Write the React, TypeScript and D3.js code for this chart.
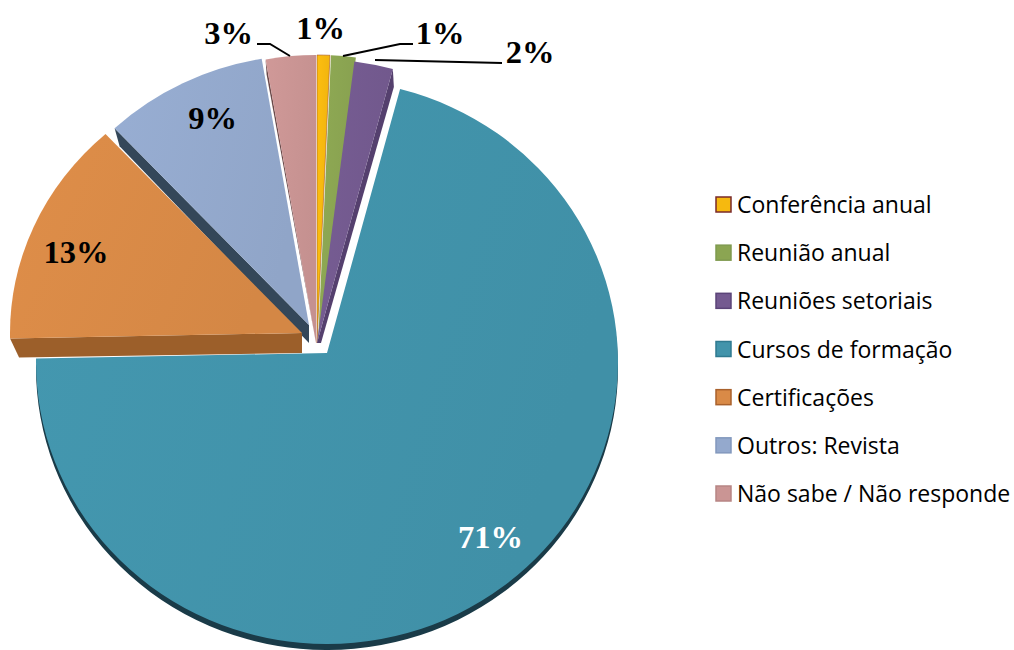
import React from "react";
import * as d3 from "d3";

const categories = ["Conferência anual", "Reunião anual", "Reuniões setoriais", "Cursos de formação", "Certificações", "Outros: Revista", "Não sabe / Não responde"];
const shares = [0.72, 1.38, 2.2, 70.4, 12.9, 9.6, 2.8];
const percentLabels = ["1%", "1%", "2%", "71%", "13%", "9%", "3%"];
const topColors = ["#f6b90f", "#8ba552", "#745a90", "#4294ab", "#d98a47", "#94a9cd", "#ca9594"];
const sideColors = ["#8a6a08", "#566a30", "#55406e", "#1a3b48", "#9c5f2a", "#344759", "#6b4a4a"];
const legendBorders = ["#7a2a2a", "#7f9a4f", "#5b4478", "#2f7a90", "#a9612c", "#8298bd", "#b78584"];

// apex of every exploded slice and the tilted ellipse of its rim
const apexX = [317, 318, 317, 327, 302, 309, 316];
const apexY = [343, 343, 343, 353, 333, 325, 343];
const rimRx = [291, 291, 291, 291, 292, 284, 291];
const rimRy = [296, 296, 292, 282, 269, 270, 296];
const rimDrop = [8, 8, 8, 9, 0, 0, 8];

function rim(i: number, angle: number) {
  // ray from the apex, in clockwise-from-top angle, to the tilted ellipse
  const dx = Math.sin(angle), dy = -Math.cos(angle);
  const RX = rimRx[i], RY = rimRy[i], D = rimDrop[i];
  const a = (dx * dx) / (RX * RX) + (dy * dy) / (RY * RY);
  const b = (2 * dy * -D) / (RY * RY);
  const c = (D * D) / (RY * RY) - 1;
  const t = (-b + Math.sqrt(b * b - 4 * a * c)) / (2 * a);
  return [apexX[i] + t * dx, apexY[i] + t * dy];
}

function slicePath(i: number, a0: number, a1: number) {
  const [x0, y0] = rim(i, a0);
  const [x1, y1] = rim(i, a1);
  const large = a1 - a0 > Math.PI ? 1 : 0;
  return `M${apexX[i]},${apexY[i]}L${x0},${y0}A${rimRx[i]},${rimRy[i]} 0 ${large} 1 ${x1},${y1}Z`;
}

const pieGen = d3.pie<number>().sort(null).startAngle(0).endAngle(2 * Math.PI);
const arcs = pieGen(shares);

const legendY = d3.scalePoint<string>().domain(categories).range([205, 494]);

const labelX = [320.5, 440, 530, 490.5, 76, 212.5, 228.5];
const labelY = [39, 44, 63, 548, 263, 129, 44];
const labelColor = ["#000", "#000", "#000", "#fff", "#000", "#000", "#000"];
const leaders: [number, number][][] = [
  [],
  [[413, 44], [400, 44], [343, 56]],
  [[502, 63], [375, 60]],
  [],
  [],
  [],
  [[257, 44], [270, 44], [290, 56]],
];
const line = d3.line();

export default function App() {
  return (
    <svg width={1014} height={650} style={{ position: "absolute", left: 0, top: 0, background: "#fff" }}>
      <defs>
        {topColors.map((c, i) => (
          <linearGradient key={i} id={`g${i}`} x1="0" y1="0" x2="1" y2="0.3">
            <stop offset="0" stopColor={d3.rgb(c).brighter(0.08).formatHex()} />
            <stop offset="1" stopColor={d3.rgb(c).darker(0.07).formatHex()} />
          </linearGradient>
        ))}
      </defs>
      {[3, 0, 1, 2, 6, 5, 4].map((i) => {
        const s = arcs[i];
        const d = slicePath(i, s.startAngle, s.endAngle);
        const [lx, ly] = rim(i, s.startAngle);
        const [ex, ey] = rim(i, s.endAngle);
        const ax = apexX[i], ay = apexY[i];
        let wall = null;
        if (i === 3) wall = <path d={d} transform="translate(0,6)" fill={sideColors[i]} />;
        else if (i === 4) wall = <path d={`M${lx},${ly}L${lx + 9},${ly + 19}L${ax},${ay + 20}L${ax},${ay}Z`} fill={sideColors[i]} />;
        else if (i === 5) wall = <path d={`M${lx},${ly}L${lx + 5},${ly + 18}L${ax},${ay + 18}L${ax},${ay}Z`} fill={sideColors[i]} />;
        else if (i === 2) wall = <path d={`M${ex},${ey}L${ex + 1},${ey + 18}L${ax + 4},${ay}L${ax},${ay}Z`} fill={sideColors[i]} />;
        else if (i === 6) wall = <path d={`M${lx},${ly}L${lx + 1},${ly + 15}L${ax},${ay}Z`} fill={sideColors[i]} />;
        return (
          <g key={i}>
            {wall}
            <path d={d} fill={`url(#g${i})`} stroke={i === 0 ? "#a5552a" : "none"} strokeWidth={0.6} />
          </g>
        );
      })}
      {leaders.map((p, i) => p.length ? <path key={i} d={line(p) ?? ""} fill="none" stroke="#000" strokeWidth={1.9} /> : null)}
      {percentLabels.map((t, i) => (
        <text key={i} x={labelX[i]} y={labelY[i]} textAnchor="middle" fontFamily="'Liberation Serif'" fontWeight="bold" fontSize={32.5} fill={labelColor[i]}>{t}</text>
      ))}
      {categories.map((c, i) => {
        const y = legendY(c) as number;
        return (
          <g key={c}>
            <rect x={716} y={y - 8} width={15} height={15} fill={topColors[i]} stroke={legendBorders[i]} strokeWidth={1.5} />
            <text x={737} y={y + 8} fontFamily="'Open Sans'" fontSize={23} fill="#000">{c}</text>
          </g>
        );
      })}
    </svg>
  );
}
